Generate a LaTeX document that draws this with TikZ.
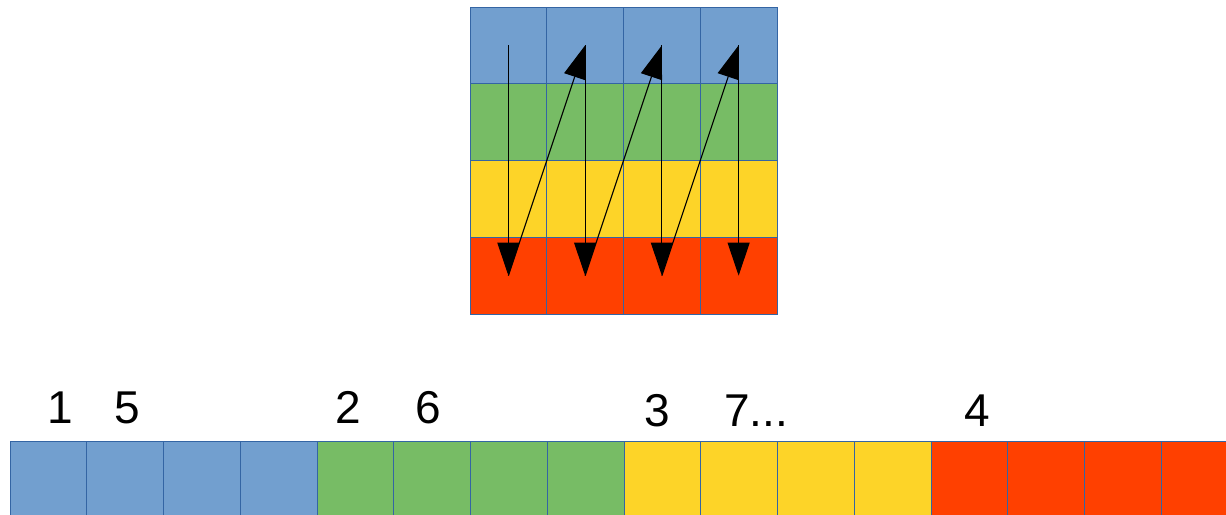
\documentclass[tikz,border=0pt]{standalone}
\usepackage{fontspec}
\setmainfont{Liberation Sans}
\usetikzlibrary{arrows.meta}
\definecolor{cblue}{HTML}{729FCF}
\definecolor{cgreen}{HTML}{77BC65}
\definecolor{cyellow}{HTML}{FDD428}
\definecolor{cred}{HTML}{FF4000}
\definecolor{cborder}{HTML}{3465A4}
\tikzset{
  cell/.style={draw=cborder, line width=1pt, rectangle, minimum width=76.75pt, minimum height=76.75pt, inner sep=0pt, outer sep=0pt},
  arr/.style={line width=1.1pt, -{Triangle[length=33pt,width=22pt]}},
  lbl/.style={anchor=base, inner sep=0pt, font=\fontsize{46}{46}\selectfont}
}
\begin{document}
\begin{tikzpicture}[x=1pt,y=-1pt]
\clip (0,0) rectangle (1226,514);
\fill[white] (0,0) rectangle (1226,514);
% top grid
\foreach \r/\c in {1/cblue,2/cgreen,3/cyellow,4/cred}{
  \foreach \k in {1,...,4}{
    \node[cell, fill=\c] (r\r c\k) at ({470+(\k-0.5)*76.75},{7+(\r-0.5)*76.75}) {};
  }
}
% arrows
\foreach \k in {1,...,4}{
  \draw[arr] (r1c\k.center) -- (r4c\k.center);
}
\draw[arr] (r4c1.center) -- (r1c2.center);
\draw[arr] (r4c2.center) -- (r1c3.center);
\draw[arr] (r4c3.center) -- (r1c4.center);
% bottom row
\foreach \g/\c in {0/cblue,1/cgreen,2/cyellow,3/cred}{
  \foreach \k in {1,...,4}{
    \pgfmathtruncatemacro{\idx}{\g*4+\k}
    \node[cell, fill=\c] (b\idx) at ({10+(\idx-0.5)*76.75},{441+38.375}) {};
  }
}
% labels
\node[lbl] (l1) at (60,423) {1};
\node[lbl] (l5) at (127,423) {5};
\node[lbl] (l2) at (348,423) {2};
\node[lbl] (l6) at (428,423) {6};
\node[lbl] (l3) at (657,426) {3};
\node[lbl] (l7) at (756,426) {7...};
\node[lbl] (l4) at (977,426) {4};
\end{tikzpicture}
\end{document}
